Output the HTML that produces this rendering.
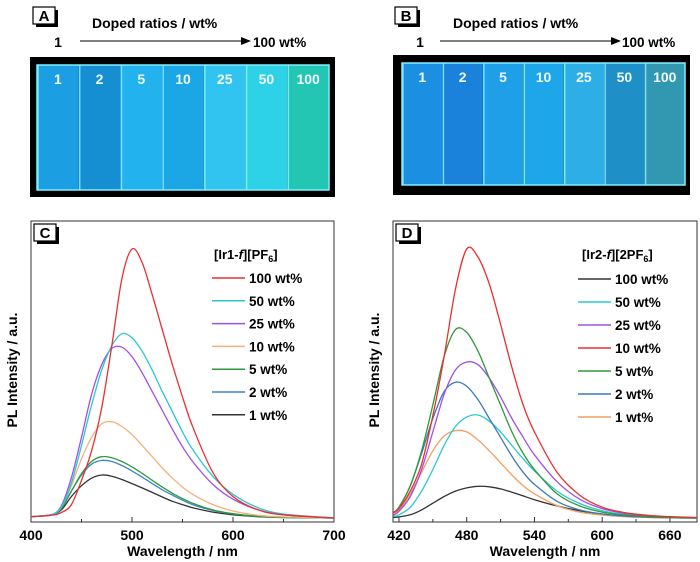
<!DOCTYPE html>
<html><head><meta charset="utf-8">
<style>
body{margin:0;background:#fff;}
#root{position:relative;width:700px;height:562px;overflow:hidden;font-family:"Liberation Sans",Arial,sans-serif;}
svg text{font-family:"Liberation Sans",Arial,sans-serif;}
</style></head>
<body>
<div id="root">
<svg id="svg" width="700" height="562" viewBox="0 0 700 562">
<defs>
<marker id="arr" markerWidth="10" markerHeight="8" refX="9" refY="4" orient="auto"><path d="M0,0 L10,4 L0,8 z" fill="#000"/></marker>
</defs>
<g id="photos"></g>
<g id="charts"></g>
</svg>
</div>
<script>
// ---- data ----
const stripLabels = ["1","2","5","10","25","50","100"];
const colorsA = ["#1b9ee2","#168fd2","#22b2ee","#1ba6e6","#32c4f0","#2ed2e6","#22c6b2"];
const colorsB = ["#1b8fe2","#1a82da","#1e9fe8","#1ea6ea","#2eaee6","#1f8fc8","#3297b0"];

const wlC = [400,420,430,440,450,460,470,480,490,500,510,520,530,540,550,560,580,600,625,650,700];
const c100 = [0.005,0.01,0.02,0.05,0.14,0.25,0.41,0.64,0.89,1.0,0.95,0.83,0.7,0.57,0.45,0.34,0.17,0.08,0.03,0.012,0];
const c50 = [0.005,0.012,0.04,0.13,0.27,0.42,0.55,0.64,0.685,0.67,0.62,0.55,0.47,0.395,0.32,0.255,0.155,0.088,0.038,0.015,0];
const c25 = [0.005,0.012,0.045,0.15,0.3,0.46,0.57,0.63,0.635,0.6,0.54,0.47,0.4,0.33,0.265,0.21,0.125,0.07,0.03,0.012,0];
const c10 = [0.005,0.012,0.04,0.12,0.22,0.3,0.35,0.358,0.34,0.31,0.27,0.228,0.186,0.148,0.115,0.088,0.05,0.026,0.01,0.004,0];
const c5 = [0.005,0.012,0.035,0.1,0.165,0.21,0.228,0.224,0.21,0.19,0.166,0.14,0.115,0.092,0.072,0.055,0.03,0.016,0.006,0.002,0];
const c2 = [0.005,0.012,0.035,0.1,0.16,0.2,0.214,0.21,0.195,0.175,0.152,0.128,0.105,0.085,0.066,0.05,0.028,0.015,0.006,0.002,0];
const c1 = [0.005,0.012,0.03,0.08,0.12,0.148,0.16,0.155,0.143,0.128,0.112,0.095,0.078,0.062,0.05,0.038,0.022,0.012,0.005,0.002,0];

const wlD = [415,420,430,440,450,460,470,480,490,500,510,520,530,540,560,580,600,620,640,660,684];
const d10 = [0.02,0.035,0.1,0.2,0.38,0.6,0.85,1.0,0.97,0.87,0.72,0.56,0.42,0.32,0.17,0.085,0.04,0.02,0.01,0.005,0.002];
const d5 = [0.02,0.04,0.12,0.25,0.42,0.6,0.7,0.69,0.62,0.52,0.42,0.32,0.24,0.18,0.09,0.045,0.022,0.011,0.005,0.002,0];
const d25 = [0.01,0.025,0.08,0.18,0.32,0.46,0.55,0.58,0.57,0.52,0.45,0.37,0.3,0.235,0.135,0.07,0.035,0.017,0.008,0.003,0];
const d2 = [0.02,0.04,0.12,0.24,0.37,0.47,0.505,0.49,0.44,0.37,0.3,0.23,0.17,0.125,0.062,0.03,0.015,0.007,0.003,0.001,0];
const d50 = [0.005,0.012,0.04,0.1,0.18,0.27,0.34,0.375,0.383,0.36,0.32,0.27,0.22,0.175,0.1,0.054,0.027,0.013,0.006,0.002,0];
const d1 = [0.015,0.03,0.09,0.17,0.25,0.305,0.325,0.32,0.29,0.25,0.205,0.16,0.12,0.09,0.046,0.022,0.011,0.005,0.002,0.001,0];
const d100 = [0.002,0.004,0.012,0.03,0.055,0.08,0.1,0.112,0.118,0.116,0.108,0.096,0.082,0.068,0.045,0.027,0.015,0.007,0.003,0.001,0];

const legendC = ["100 wt%","50 wt%","25 wt%","10 wt%","5 wt%","2 wt%","1 wt%"];
const legendD = ["100 wt%","50 wt%","25 wt%","10 wt%","5 wt%","2 wt%","1 wt%"];
const ticksC = [400,500,600,700];
const ticksD = [420,480,540,600,660];

// ---- helpers ----
const NS="http://www.w3.org/2000/svg";
function mk(tag,parent,attrs){const e=document.createElementNS(NS,tag);for(const k in attrs)e.setAttribute(k,attrs[k]);parent.appendChild(e);return e;}
function txt(parent,x,y,s,size,anchor){const t=mk('text',parent,{x:x,y:y,'font-size':size,'font-weight':'bold','text-anchor':anchor||'start',fill:'#000'});t.textContent=s;return t;}
function labelBox(parent,x,y,letter){
  const g=mk('g',parent,{});
  
  
  mk('rect',g,{x:x+3,y:y+3,width:22,height:17,fill:'#000'});
  mk('rect',g,{x:x,y:y,width:22,height:17,fill:'#fff',stroke:'#000','stroke-width':1.2});
  txt(g,x+11,y+14,letter,15,'middle');
}
const photos=document.getElementById('photos');
const charts=document.getElementById('charts');

function photoPanel(name,letter,lx,titleX,oneX,arrX1,arrX2,pctX,fx,fy,fw,fh,ix,iy,iw,ih,cols){
  const g=mk('g',photos,{});
  
  
  labelBox(g,lx,7,letter);
  txt(g,titleX,28,'Doped ratios / wt%',14);
  txt(g,oneX,47,'1',14,'middle');
  mk('line',g,{x1:arrX1,y1:41,x2:arrX2,y2:41,stroke:'#000','stroke-width':1,'marker-end':'url(#arr)'});
  txt(g,pctX,47,'100 wt%',13.5);
  mk('rect',g,{x:fx,y:fy,width:fw,height:fh,fill:'#000'});
  const sw=iw/cols.length;
  cols.forEach((c,i)=>{
    const r=mk('rect',g,{x:ix+i*sw,y:iy,width:sw,height:ih,fill:c});
    
    
    mk('line',g,{x1:ix+i*sw+1,y1:iy,x2:ix+i*sw+1,y2:iy+ih,stroke:'#8ff4ff','stroke-width':1.5,opacity:0.8});
    txt(g,ix+i*sw+sw/2,iy+19,stripLabels[i],14,'middle').setAttribute('fill','#f0fbff');
  });
  mk('rect',g,{x:ix,y:iy,width:iw,height:ih,fill:'none',stroke:'#7ff0ff','stroke-width':1.5});
}
photoPanel('photo-panel-a','A',33,92,58,80,250,253,30,57,305,140,37,65,292,125,colorsA);
photoPanel('photo-panel-b','B',395,453,420,440,620,622,393,55,297,140,402,63,283,122,colorsB);

function smoothPath(pts){
  let d='M'+pts[0][0].toFixed(1)+','+pts[0][1].toFixed(1);
  for(let i=0;i<pts.length-1;i++){
    const p0=pts[Math.max(0,i-1)],p1=pts[i],p2=pts[i+1],p3=pts[Math.min(pts.length-1,i+2)];
    const c1x=p1[0]+(p2[0]-p0[0])/6,c1y=p1[1]+(p2[1]-p0[1])/6;
    const c2x=p2[0]-(p3[0]-p1[0])/6,c2y=p2[1]-(p3[1]-p1[1])/6;
    d+=' C'+c1x.toFixed(1)+','+c1y.toFixed(1)+' '+c2x.toFixed(1)+','+c2y.toFixed(1)+' '+p2[0].toFixed(1)+','+p2[1].toFixed(1);
  }
  return d;
}

function chart(cfg){
  const g=mk('g',charts,{});
  
  
  const L=cfg.left,R=cfg.right,T=221,B=522,base=518,unit=269;
  const xs=v=>L+(v-cfg.xmin)/(cfg.xmax-cfg.xmin)*(R-L);
  const ys=v=>base-v*unit;
  mk('rect',g,{x:L,y:T,width:R-L,height:B-T,fill:'#fff',stroke:'#333','stroke-width':1});
  // ticks
  for(let v=cfg.minorStart;v<=cfg.xmax;v+=cfg.minor){
    const major=cfg.ticks.indexOf(v)>=0;
    mk('line',g,{x1:xs(v),y1:B,x2:xs(v),y2:B-(major?5:3),stroke:'#333','stroke-width':1});
  }
  cfg.ticks.forEach(v=>{
    const t=txt(g,xs(v),540,String(v),14,'middle');
    
    
  });
  const xt=txt(g,(L+R)/2,556,'Wavelength / nm',14,'middle');
  
  
  const yt=mk('text',g,{x:0,y:0,'font-size':14,'font-weight':'bold','text-anchor':'middle',transform:'translate('+(L-14)+',370) rotate(-90)'});
  yt.textContent='PL Intensity / a.u.';
  
  
  labelBox(g,L+3,224,cfg.letter);
  // series
  cfg.series.forEach(s=>{
    const pts=cfg.wl.map((w,i)=>[xs(w),ys(s.vals[i])]);
    const p=mk('path',g,{d:smoothPath(pts),fill:'none',stroke:s.color,'stroke-width':1.3});
    
    
  });
  // legend
  const lg=mk('g',g,{});
  
  
  const tt=mk('text',lg,{x:cfg.legTitleX,y:259,'font-size':13,'font-weight':'bold'});
  tt.innerHTML=cfg.legTitle;
  cfg.legend.forEach((lab,i)=>{
    const y=cfg.legY0+i*cfg.legDy;
    const e=mk('g',lg,{});
    
    
    mk('line',e,{x1:cfg.legX,y1:y,x2:cfg.legX+33,y2:y,stroke:cfg.legColors[i],'stroke-width':1.5});
    txt(e,cfg.legX+37,y+5,lab,13.5);
  });
}

chart({name:'chart-c',letter:'C',left:31,right:334,xmin:400,xmax:700,ticks:ticksC,minor:50,minorStart:400,wl:wlC,
  series:[{key:'1wt',vals:c1,color:'#333'},{key:'2wt',vals:c2,color:'#3a86c8'},{key:'5wt',vals:c5,color:'#2e9a3a'},
    {key:'10wt',vals:c10,color:'#f2b27a'},{key:'25wt',vals:c25,color:'#a050e8'},{key:'50wt',vals:c50,color:'#28c8d0'},{key:'100wt',vals:c100,color:'#e83030'}],
  legend:legendC,legColors:['#e83030','#28c8d0','#a050e8','#f2b27a','#2e9a3a','#3a86c8','#333'],
  legX:212,legY0:278,legDy:22.8,legTitleX:214,
  legTitle:'[Ir1-<tspan font-style="italic">f</tspan>][PF<tspan font-size="9" dy="3">6</tspan><tspan dy="-3">]</tspan>'});

chart({name:'chart-d',letter:'D',left:393,right:697,xmin:414.7,xmax:684,ticks:ticksD,minor:30,minorStart:420,wl:wlD,
  series:[{key:'100wt',vals:d100,color:'#333'},{key:'1wt',vals:d1,color:'#f0a060'},{key:'50wt',vals:d50,color:'#28c8d0'},
    {key:'2wt',vals:d2,color:'#3a7ab8'},{key:'25wt',vals:d25,color:'#a050e8'},{key:'5wt',vals:d5,color:'#2e9a3a'},{key:'10wt',vals:d10,color:'#e83030'}],
  legend:legendD,legColors:['#333','#28c8d0','#a050e8','#e83030','#2e9a3a','#3a7ab8','#f0a060'],
  legX:578,legY0:279,legDy:23,legTitleX:582,
  legTitle:'[Ir2-<tspan font-style="italic">f</tspan>][2PF<tspan font-size="9" dy="3">6</tspan><tspan dy="-3">]</tspan>'});
</script>
</body></html>
